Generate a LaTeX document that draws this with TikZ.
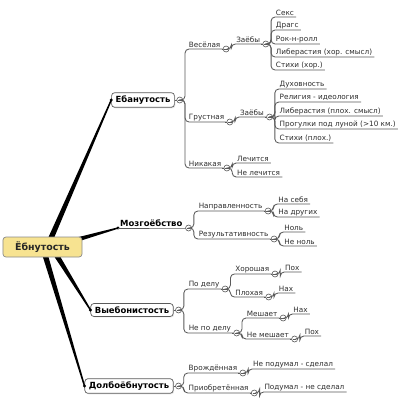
\documentclass[tikz,border=0pt]{standalone}
\usepackage{fontspec}
\setmainfont{DejaVu Sans}
\usetikzlibrary{calc,shadows}
\definecolor{lnc}{HTML}{5A5A5A}
\definecolor{txc}{HTML}{2E2E2E}
\definecolor{rootfill}{HTML}{F7E391}
\tikzset{
  lbl/.style={font=\fontsize{7.3}{8}\selectfont, text=txc, inner sep=1bp, anchor=south west},
  conn/.style={draw=lnc, line width=0.85bp, rounded corners=4bp},
  cc/.style={circle, draw=lnc, fill=white, line width=0.6bp, minimum size=6bp, inner sep=0pt,
    path picture={\draw[lnc, line width=0.5bp] ([xshift=-1.7bp]path picture bounding box.center) -- ([xshift=1.7bp]path picture bounding box.center);}},
  mainbox/.style={draw=lnc, fill=white, rounded corners=3bp, line width=0.7bp, inner xsep=4bp, inner ysep=3bp,
    font=\fontsize{8.5}{10}\selectfont\bfseries, text=black, drop shadow={opacity=0.2, shadow xshift=1bp, shadow yshift=-1bp}},
  rootbox/.style={draw=lnc!70, fill=rootfill, rounded corners=3bp, line width=0.7bp, minimum width=79bp, minimum height=20bp,
    font=\fontsize{9.5}{11}\selectfont\bfseries, text=black!85}
}
% kid: [offset]{name}{parent circle}{y}{text}
\newcommand\mmkid[5][9]{%
  \path (#3.center) ++(#1,0) coordinate (#2-x);
  \node[lbl] (#2) at (#2-x |- 0,#4) {#5};
  \draw[conn] (#3.east) -- ++(2,0) |- ([xshift=1bp]#2.south east);
}
\newcommand\mmcirc[1]{%
  \draw[conn] (#1.south east) -- ++(3,0);
  \node[cc] (#1c) at ([xshift=4.5bp]#1.south east) {};
}
\newcommand\mmbranch[2]{%
  \fill[black] ($(#1)!2.8bp!90:(#2)$) -- ($(#2)!0.7bp!-90:(#1)$) -- ($(#2)!0.7bp!90:(#1)$) -- ($(#1)!2.8bp!-90:(#2)$) -- cycle;
  \fill[black] (#2) circle (1.7bp);
}
\begin{document}
\begin{tikzpicture}[x=1bp, y=-1bp]
\useasboundingbox[fill=white] (0,0) rectangle (400,415);

% main nodes
\node[mainbox] (mE) at (143,100) {Ебанутость};
\node[font=\fontsize{8.5}{10}\selectfont\bfseries, inner sep=1bp, anchor=south west] (mM) at (119,228) {Мозгоёбство};
\node[mainbox] (mV) at (132,310) {Выебонистость};
\node[mainbox] (mD) at (129,386) {Долбоёбнутость};

% root branches
\coordinate (r1) at (48,245);
\coordinate (r2) at (58,245);
\coordinate (r3) at (52,248);
\coordinate (r4) at (43,248);
\coordinate (tM) at (118,228);
\mmbranch{r1}{mE.west}
\mmbranch{r2}{tM}
\mmbranch{r3}{mV.west}
\mmbranch{r4}{mD.west}
\node[rootbox] (root) at (42.5,247) {Ёбнутость};

% circles of main nodes
\draw[conn] (mE.east) -- ++(3,0);
\node[cc] (mEc) at ([xshift=5bp]mE.east) {};
\draw[conn] (tM) -- (mM.south east) -- ++(3,0);
\node[cc] (mMc) at ([xshift=5bp]mM.south east) {};
\draw[conn] (mV.east) -- ++(3,0);
\node[cc] (mVc) at ([xshift=5bp]mV.east) {};
\draw[conn] (mD.east) -- ++(3,0);
\node[cc] (mDc) at ([xshift=5bp]mD.east) {};

% ---- Ебанутость
\mmkid[8]{a1}{mEc}{49}{Весёлая}\mmcirc{a1}
\mmkid[8]{a2}{mEc}{122}{Грустная}\mmcirc{a2}
\mmkid[8]{a3}{mEc}{168}{Никакая}\mmcirc{a3}

\mmkid{a1z}{a1c}{44}{Заёбы}\mmcirc{a1z}
\mmkid{a1z1}{a1zc}{17}{Секс}
\mmkid{a1z2}{a1zc}{30}{Драгс}
\mmkid{a1z3}{a1zc}{44}{Рок-н-ролл}
\mmkid{a1z4}{a1zc}{57}{Либерастия (хор. смысл)}
\mmkid{a1z5}{a1zc}{70}{Стихи (хор.)}

\mmkid{a2z}{a2c}{117}{Заёбы}\mmcirc{a2z}
\mmkid{a2z1}{a2zc}{89}{Духовность}
\mmkid{a2z2}{a2zc}{102}{Религия - идеология}
\mmkid{a2z3}{a2zc}{116}{Либерастия (плох. смысл)}
\mmkid{a2z4}{a2zc}{129}{Прогулки под луной (>10 км.)}
\mmkid{a2z5}{a2zc}{143}{Стихи (плох.)}

\mmkid{a31}{a3c}{163}{Лечится}
\mmkid{a32}{a3c}{177}{Не лечится}

% ---- Мозгоёбство
\mmkid{b1}{mMc}{211}{Направленность}\mmcirc{b1}
\mmkid{b2}{mMc}{239}{Результативность}\mmcirc{b2}
\mmkid{b11}{b1c}{204}{На себя}
\mmkid{b12}{b1c}{217}{На других}
\mmkid{b21}{b2c}{232}{Ноль}
\mmkid{b22}{b2c}{246}{Не ноль}

% ---- Выебонистость
\mmkid{c1}{mVc}{289}{По делу}\mmcirc{c1}
\mmkid{c2}{mVc}{333}{Не по делу}\mmcirc{c2}
\mmkid{c11}{c1c}{274}{Хорошая}\mmcirc{c11}
\mmkid{c12}{c1c}{297}{Плохая}\mmcirc{c12}
\mmkid{c21}{c2c}{318}{Мешает}\mmcirc{c21}
\mmkid{c22}{c2c}{339}{Не мешает}\mmcirc{c22}
\mmkid{c111}{c11c}{272}{Пох}
\mmkid{c121}{c12c}{293}{Нах}
\mmkid{c211}{c21c}{314}{Нах}
\mmkid{c221}{c22c}{336}{Пох}

% ---- Долбоёбнутость
\mmkid{d1}{mDc}{373}{Врождённая}\mmcirc{d1}
\mmkid{d2}{mDc}{393}{Приобретённая}\mmcirc{d2}
\mmkid{d11}{d1c}{369}{Не подумал - сделал}
\mmkid{d21}{d2c}{392}{Подумал - не сделал}
\end{tikzpicture}
\end{document}
